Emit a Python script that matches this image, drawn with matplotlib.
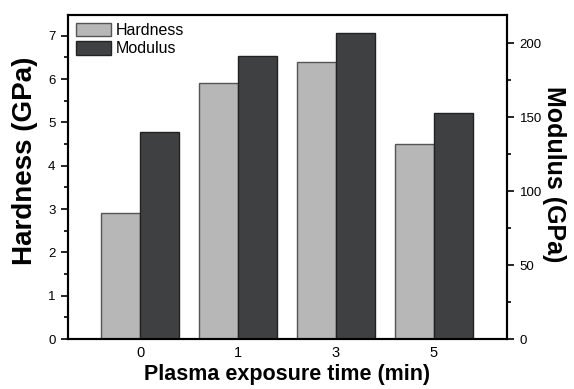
import matplotlib.pyplot as plt
from matplotlib.ticker import MultipleLocator
import numpy as np

plt.rcParams['font.family'] = ['Liberation Sans', 'DejaVu Sans']

times = ['0', '1', '3', '5']
hardness = [2.9, 5.9, 6.4, 4.5]
modulus = [140, 191, 207, 152.5]

x = np.arange(len(times))
w = 0.4

fig = plt.figure(figsize=(5.74, 3.89), dpi=100)
ax = fig.add_axes([68/574, 1 - 339/389, (507-68)/574, (339-15)/389])
ax2 = ax.twinx()

ax.bar(x - w/2, hardness, w, color='#b7b7b8', edgecolor='#555555', linewidth=1, label='Hardness')
ax2.bar(x + w/2, modulus, w, color='#3f4042', edgecolor='#222222', linewidth=1, label='Modulus')

ax.set_xlim(-0.735, 3.745)
ax.set_ylim(0, 7.48)
ax2.set_ylim(0, 219)

ax.set_xticks(x)
ax.set_xticklabels(times)
ax.yaxis.set_major_locator(MultipleLocator(1))
ax.yaxis.set_minor_locator(MultipleLocator(0.5))
ax2.yaxis.set_major_locator(MultipleLocator(50))
ax2.yaxis.set_minor_locator(MultipleLocator(25))

for a in (ax, ax2):
    a.tick_params(which='major', length=5, width=1.2, labelsize=9.5, pad=4)
    a.tick_params(which='minor', length=3, width=1.2)
    for s in a.spines.values():
        s.set_linewidth(1.5)
ax.tick_params(axis='x', length=0, pad=5, labelsize=10.5)

ax.set_xlabel('Plasma exposure time (min)', fontsize=15.5, fontweight='bold', labelpad=3)
ax.set_ylabel('Hardness (GPa)', fontsize=20, fontweight='bold')
ax.yaxis.set_label_coords(-0.068, 0.55)
ax2.set_ylabel('Modulus (GPa)', fontsize=18, fontweight='bold', rotation=-90)
ax2.yaxis.set_label_coords(1.135, 0.51)

h1, l1 = ax.get_legend_handles_labels()
h2, l2 = ax2.get_legend_handles_labels()
ax.legend(h1 + h2, l1 + l2, loc='upper left', frameon=False, fontsize=11.5,
          handlelength=2.2, handleheight=0.9, borderaxespad=0.2, borderpad=0.3,
          labelspacing=0.2, handletextpad=0.3)

fig.savefig('out.png', dpi=100)
